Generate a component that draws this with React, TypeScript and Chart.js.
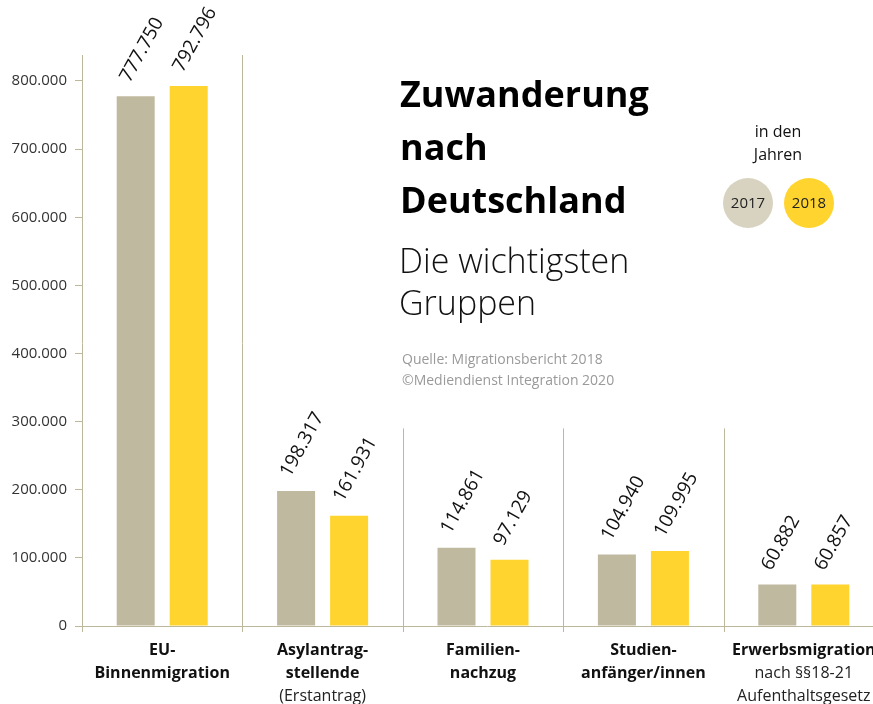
import React, { useEffect, useRef } from "react";
import { Chart, registerables } from "chart.js";

Chart.register(...registerables);

const categories = ["EU-Binnenmigration", "Asylantragstellende", "Familiennachzug", "Studienanfänger/innen", "Erwerbsmigration"];
const boldLines = [["EU-", "Binnenmigration"], ["Asylantrag-", "stellende"], ["Familien-", "nachzug"], ["Studien-", "anfänger/innen"], ["Erwerbsmigration"]];
const regularLines = [[], ["(Erstantrag)"], [], [], ["nach §§18-21", "Aufenthaltsgesetz"]];
const years = ["2017", "2018"];
const values2017 = [777750, 198317, 114861, 104940, 60882];
const values2018 = [792796, 161931, 97129, 109995, 60857];
const yTickValues = [0, 100000, 200000, 300000, 400000, 500000, 600000, 700000, 800000];
const yMax = 838165;
const separatorTopValue = 290000;
const titleLines = ["Zuwanderung", "nach", "Deutschland"];
const subtitleLines = ["Die wichtigsten", "Gruppen"];
const sourceLines = ["Quelle: Migrationsbericht 2018", "©Mediendienst Integration 2020"];
const legendTitle = ["in den", "Jahren"];

const COLOR_2017 = "#bfba9f";
const COLOR_2018 = "#ffd42f";
const LEGEND_2017 = "#d8d3c1";
const LINE = "#bdb89c";
const FONT = "'Open Sans', sans-serif";

const fmt = (n: number) => String(Math.round(n)).replace(/\B(?=(\d{3})+(?!\d))/g, ".");

const decorPlugin = {
  id: "decor",
  beforeDatasetsDraw(chart: any) {
    const { ctx, chartArea, scales } = chart;
    const x = scales.x;
    const y = scales.y;
    ctx.save();
    ctx.strokeStyle = LINE;
    ctx.lineWidth = 1;
    ctx.beginPath();
    ctx.moveTo(chartArea.left + 0.5, chartArea.top);
    ctx.lineTo(chartArea.left + 0.5, chartArea.bottom + 6);
    ctx.stroke();
    ctx.beginPath();
    ctx.moveTo(chartArea.left - 7, chartArea.bottom + 0.5);
    ctx.lineTo(chart.width, chartArea.bottom + 0.5);
    ctx.stroke();
    for (let i = 0; i < categories.length - 1; i++) {
      const bx = Math.round((x.getPixelForValue(i) + x.getPixelForValue(i + 1)) / 2) + 0.5;
      const top = i === 0 ? chartArea.top : y.getPixelForValue(separatorTopValue);
      ctx.beginPath();
      ctx.moveTo(bx, top);
      ctx.lineTo(bx, chartArea.bottom + 6);
      ctx.stroke();
    }
    ctx.restore();
  },
  afterDatasetsDraw(chart: any) {
    const { ctx, scales } = chart;
    const x = scales.x;
    ctx.save();
    ctx.fillStyle = "#111";
    ctx.font = `19px ${FONT}`;
    ctx.textAlign = "left";
    ctx.textBaseline = "alphabetic";
    chart.data.datasets.forEach((ds: any, di: number) => {
      const meta = chart.getDatasetMeta(di);
      meta.data.forEach((bar: any, i: number) => {
        ctx.save();
        ctx.translate(bar.x - 6, bar.y - 13);
        ctx.rotate((-61 * Math.PI) / 180);
        ctx.fillText(fmt(ds.data[i]), 0, 0);
        ctx.restore();
      });
    });
    ctx.textAlign = "center";
    categories.forEach((_c, i) => {
      const cx = x.getPixelForValue(i);
      let base = 655;
      ctx.fillStyle = "#111";
      ctx.font = `bold 16px ${FONT}`;
      boldLines[i].forEach((l) => {
        ctx.fillText(l, cx, base);
        base += 23;
      });
      ctx.fillStyle = "#222";
      ctx.font = `16px ${FONT}`;
      regularLines[i].forEach((l) => {
        ctx.fillText(l, cx, base);
        base += 23;
      });
    });
    ctx.textAlign = "left";
    ctx.fillStyle = "#000";
    ctx.font = `bold 36px ${FONT}`;
    titleLines.forEach((l, i) => ctx.fillText(l, 400, 107 + i * 53));
    ctx.fillStyle = "#111";
    ctx.font = `300 34px ${FONT}`;
    subtitleLines.forEach((l, i) => ctx.fillText(l, 399, 273 + i * 42));
    ctx.fillStyle = "#9a9a9a";
    ctx.font = `14px ${FONT}`;
    sourceLines.forEach((l, i) => ctx.fillText(l, 402, 364 + i * 21));
    ctx.textAlign = "center";
    ctx.fillStyle = "#111";
    ctx.font = `16px ${FONT}`;
    legendTitle.forEach((l, i) => ctx.fillText(l, 778, 137 + i * 23));
    const circles = [
      { cx: 748, color: LEGEND_2017, label: years[0] },
      { cx: 809, color: COLOR_2018, label: years[1] },
    ];
    circles.forEach((c) => {
      ctx.beginPath();
      ctx.arc(c.cx, 203, 25, 0, Math.PI * 2);
      ctx.fillStyle = c.color;
      ctx.fill();
      ctx.fillStyle = "#222";
      ctx.font = `15px ${FONT}`;
      ctx.textBaseline = "middle";
      ctx.fillText(c.label, c.cx, 204);
      ctx.textBaseline = "alphabetic";
    });
    ctx.restore();
  },
};

export default function App() {
  const ref = useRef<HTMLCanvasElement>(null);
  useEffect(() => {
    if (!ref.current) return;
    const chart = new Chart(ref.current, {
      type: "bar",
      data: {
        labels: categories,
        datasets: [
          { label: years[0], data: values2017, backgroundColor: COLOR_2017 },
          { label: years[1], data: values2018, backgroundColor: COLOR_2018 },
        ],
      },
      options: {
        responsive: false,
        animation: false,
        devicePixelRatio: 1,
        layout: { padding: { left: 0, right: 16, top: 55, bottom: 78 } },
        datasets: { bar: { categoryPercentage: 0.661, barPercentage: 0.717 } },
        plugins: { legend: { display: false }, tooltip: { enabled: false }, title: { display: false } },
        scales: {
          x: { display: false, offset: true },
          y: {
            min: 0,
            max: yMax,
            afterFit: (s: any) => {
              s.width = 82;
            },
            afterBuildTicks: (s: any) => {
              s.ticks = yTickValues.map((v) => ({ value: v }));
            },
            border: { display: false },
            grid: { display: true, drawOnChartArea: false, drawTicks: true, tickLength: 7, color: LINE },
            ticks: {
              autoSkip: false,
              padding: 8,
              color: "#333",
              font: { family: "'Open Sans', sans-serif", size: 15 },
              callback: (v: any) => fmt(Number(v)),
            },
          },
        },
      },
      plugins: [decorPlugin],
    } as any);
    return () => chart.destroy();
  }, []);
  return (
    <div style={{ position: "fixed", left: 0, top: 0, width: 873, height: 704, overflow: "hidden", background: "#fff" }}>
      <canvas ref={ref} width={900} height={704} style={{ width: 900, height: 704, display: "block" }} />
    </div>
  );
}
